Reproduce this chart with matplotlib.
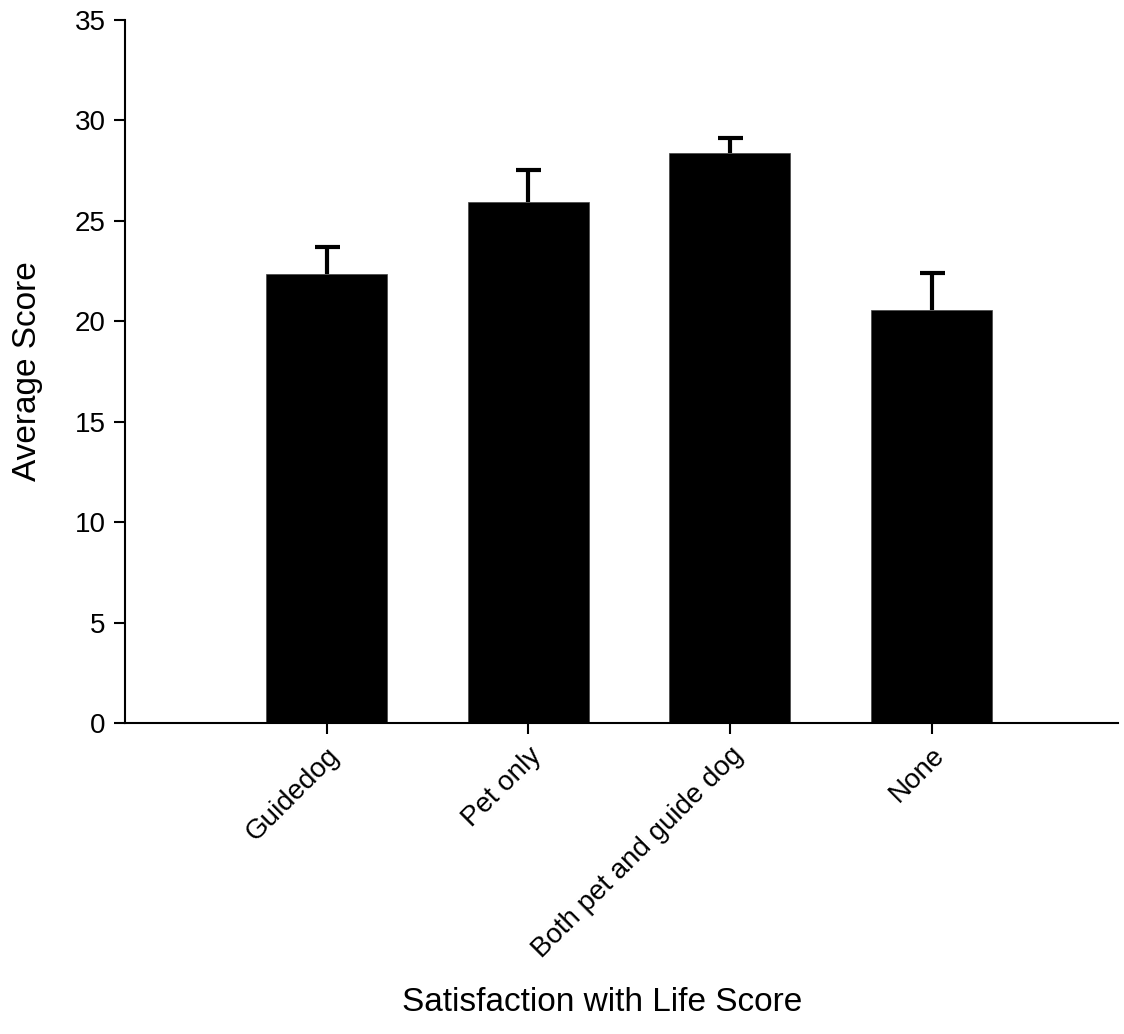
import matplotlib
matplotlib.use("Agg")
import matplotlib.pyplot as plt

plt.rcParams['font.family'] = ['Liberation Sans', 'DejaVu Sans']

groups = ["Guidedog", "Pet only", "Both pet and guide dog", "None"]
means = [22.35, 25.95, 28.38, 20.58]
errors = [1.35, 1.57, 0.72, 1.82]

fig = plt.figure(figsize=(11.24, 10.34), dpi=100)
ax = fig.add_axes([0.1112, 0.3008, 0.8835, 0.6799])

x = list(range(len(groups)))
ax.bar(x, means, width=0.6, color="black", edgecolor="#444444", linewidth=0.5, zorder=2)
eb = ax.errorbar(x, means, yerr=[[0] * len(errors), errors], fmt="none", ecolor="black",
                 elinewidth=3, capsize=9, capthick=3, zorder=1)
# only the upper cap is drawn in the original
eb[1][0].set_visible(False)
for cap in eb[1]:
    cap.set_solid_capstyle("round")

ax.set_xlim(-1.0, 3.925)
ax.set_ylim(0, 35)
ax.set_yticks(range(0, 36, 5))
ax.set_xticks(x)
ax.set_xticklabels(groups, rotation=45, ha="right", rotation_mode="anchor")

for side in ("top", "right"):
    ax.spines[side].set_visible(False)
for side in ("left", "bottom"):
    ax.spines[side].set_linewidth(1.5)

ax.tick_params(axis="both", direction="out", length=8, width=1.5, labelsize=20, pad=6)

ax.set_ylabel("Average Score", fontsize=24)
ax.set_xlabel("Satisfaction with Life Score", fontsize=24)
ax.yaxis.set_label_coords(-0.083, 0.5)
ax.xaxis.set_label_coords(0.48, -0.375)

fig.savefig("out.png", dpi=100)
